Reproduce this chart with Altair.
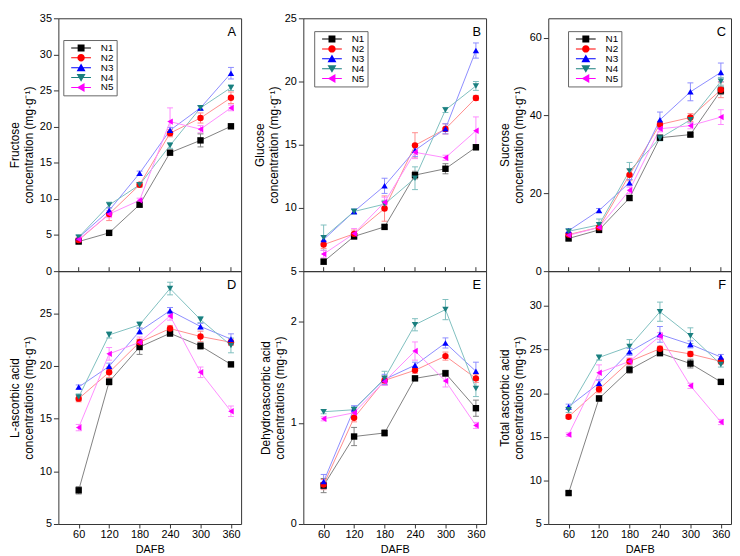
import altair as alt
import pandas as pd

days = [60, 120, 180, 240, 300, 360]
series = ["N1", "N2", "N3", "N4", "N5"]

# Panel A: fructose
fru = {
    "N1": [4.1, 5.3, 9.2, 16.4, 18.1, 20.05],
    "N2": [4.3, 7.9, 11.95, 19.1, 21.2, 24.0],
    "N3": [4.65, 8.4, 13.55, 19.5, 22.6, 27.4],
    "N4": [4.7, 9.15, 11.95, 17.4, 22.6, 25.4],
    "N5": [4.4, 7.9, 9.8, 20.7, 19.65, 22.6],
}
fru_err = {
    "N1": [0.2, 0.2, 0.3, 0.3, 0.9, 0.3],
    "N2": [0.3, 0.9, 0.3, 0.5, 0.7, 0.8],
    "N3": [0.3, 0.4, 0.3, 0.4, 0.3, 0.8],
    "N4": [0.3, 0.4, 0.3, 0.4, 0.3, 0.4],
    "N5": [0.3, 0.5, 0.3, 1.9, 0.5, 0.4],
}
# Panel B: glucose
glu = {
    "N1": [5.75, 7.75, 8.5, 12.6, 13.1, 14.8],
    "N2": [7.1, 7.95, 9.95, 14.95, 16.25, 18.7],
    "N3": [7.5, 9.72, 11.75, 14.56, 16.26, 22.45],
    "N4": [7.65, 9.72, 10.3, 12.35, 17.75, 19.65],
    "N5": [6.35, 7.97, 10.45, 14.4, 13.97, 16.1],
}
glu_err = {
    "N1": [0.2, 0.2, 0.15, 0.3, 0.4, 0.2],
    "N2": [0.3, 0.3, 1.0, 1.0, 0.4, 0.2],
    "N3": [0.3, 0.2, 0.6, 0.5, 0.4, 0.6],
    "N4": [1.0, 0.2, 0.3, 0.9, 0.2, 0.35],
    "N5": [0.3, 0.4, 0.4, 0.5, 0.2, 1.1],
}
# Panel C: sucrose
suc = {
    "N1": [8.4, 10.6, 18.8, 34.3, 35.1, 46.4],
    "N2": [9.4, 11.25, 24.75, 37.7, 39.5, 46.6],
    "N3": [10.4, 15.6, 22.75, 38.9, 46.1, 51.1],
    "N4": [10.25, 11.9, 25.75, 34.2, 38.9, 48.8],
    "N5": [9.2, 11.25, 20.8, 36.6, 37.4, 39.6],
}
suc_err = {
    "N1": [0.4, 0.5, 0.6, 0.5, 0.5, 1.0],
    "N2": [0.5, 0.5, 1.5, 0.8, 1.0, 2.0],
    "N3": [0.5, 0.5, 0.8, 2.0, 2.3, 2.4],
    "N4": [0.5, 1.5, 2.2, 0.7, 0.8, 1.0],
    "N5": [0.5, 0.5, 0.8, 0.8, 0.8, 1.9],
}
# Panel D: L-ascorbic acid
asa = {
    "N1": [8.2, 18.5, 21.8, 23.1, 21.9, 20.15],
    "N2": [16.9, 19.4, 22.25, 23.55, 22.8, 22.25],
    "N3": [18.0, 19.97, 23.3, 25.25, 23.75, 22.55],
    "N4": [17.05, 22.95, 23.9, 27.35, 24.4, 21.95],
    "N5": [14.15, 21.15, 22.25, 24.75, 19.4, 15.7],
}
asa_err = {
    "N1": [0.35, 0.3, 0.7, 0.3, 0.3, 0.2],
    "N2": [0.3, 0.5, 0.3, 0.3, 0.5, 0.3],
    "N3": [0.2, 0.3, 0.3, 0.3, 0.3, 0.5],
    "N4": [0.3, 0.3, 0.3, 0.6, 0.3, 0.7],
    "N5": [0.3, 0.6, 0.5, 0.4, 0.5, 0.5],
}
# Panel E: dehydroascorbic acid
dha = {
    "N1": [0.38, 0.865, 0.9, 1.44, 1.49, 1.145],
    "N2": [0.39, 1.05, 1.42, 1.52, 1.66, 1.44],
    "N3": [0.42, 1.14, 1.43, 1.57, 1.79, 1.51],
    "N4": [1.11, 1.13, 1.44, 1.97, 2.12, 1.34],
    "N5": [1.04, 1.10, 1.41, 1.71, 1.415, 0.975],
}
dha_err = {
    "N1": [0.07, 0.09, 0.03, 0.02, 0.03, 0.08],
    "N2": [0.05, 0.04, 0.04, 0.03, 0.04, 0.04],
    "N3": [0.07, 0.03, 0.05, 0.03, 0.05, 0.09],
    "N4": [0.02, 0.03, 0.07, 0.06, 0.10, 0.08],
    "N5": [0.02, 0.03, 0.04, 0.09, 0.06, 0.03],
}
# Panel F: total ascorbic acid
tot = {
    "N1": [8.55, 19.4, 22.7, 24.6, 23.4, 21.3],
    "N2": [17.3, 20.45, 23.65, 25.1, 24.5, 23.65],
    "N3": [18.45, 21.15, 24.75, 26.75, 25.6, 24.15],
    "N4": [18.1, 24.1, 25.35, 29.35, 26.6, 23.3],
    "N5": [15.25, 22.35, 23.65, 26.55, 20.85, 16.7],
}
tot_err = {
    "N1": [0.2, 0.3, 0.4, 0.3, 0.5, 0.2],
    "N2": [0.2, 0.4, 0.3, 0.3, 0.3, 0.3],
    "N3": [0.3, 0.4, 0.4, 0.9, 0.4, 0.3],
    "N4": [0.3, 0.3, 0.8, 1.1, 0.9, 0.3],
    "N5": [0.2, 0.9, 0.4, 0.4, 0.3, 0.3],
}

marker_colors = ["#000000", "#ff0000", "#0000ff", "#1a7f7f", "#ff00ff"]
line_colors = ["#808080", "#ff8c8c", "#8c8cff", "#7fbfbf", "#ff8cff"]
shapes = ["square", "circle", "triangle-up", "triangle-down", "triangle-left"]
LINE = "M-2,-0.1H2V0.1H-2Z "
legend_paths = [
    LINE + "M-0.7,-0.7H0.7V0.7H-0.7Z",
    LINE + "M-0.75,0A0.75,0.75 0 1,1 0.75,0A0.75,0.75 0 1,1 -0.75,0Z",
    LINE + "M0,-0.85L0.9,0.7H-0.9Z",
    LINE + "M0,0.85L-0.9,-0.7H0.9Z",
    LINE + "M-0.85,0L0.7,-0.9V0.9Z",
]

W, H = 185, 256
FONT = "Liberation Sans"
MG = "(mg\u00b7g\u207b\u00b9)"


def make_panel(letter, vals, errs, ydom, yticks, ytitle, top, legend_xy=None):
    rows = []
    for s in series:
        for i, d in enumerate(days):
            v, e = vals[s][i], errs[s][i]
            rows.append(dict(day=d, series=s, value=v, lo=v - e, hi=v + e))
    df = pd.DataFrame(rows)
    xscale = alt.Scale(domain=[20, 380], nice=False, zero=False)
    yscale = alt.Scale(domain=ydom, nice=False, zero=False)
    if top:
        xaxis = alt.Axis(labels=False, ticks=False, domain=False, grid=False, title=None)
    else:
        xaxis = alt.Axis(values=days, title="DAFB", grid=False, domain=False,
                         tickSize=4, labelPadding=1, titlePadding=4)
    yaxis = alt.Axis(values=yticks, title=ytitle, grid=False, domain=False,
                     tickSize=5, labelPadding=2, titlePadding=4)
    x = alt.X("day:Q", scale=xscale, axis=xaxis)
    base = alt.Chart(df)
    lcol = alt.Color("series:N", scale=alt.Scale(domain=series, range=line_colors), legend=None)
    mcol = alt.Color("series:N", scale=alt.Scale(domain=series, range=marker_colors), legend=None)

    err = base.mark_rule(strokeWidth=1).encode(
        x=x, y=alt.Y("lo:Q", scale=yscale, axis=yaxis), y2="hi:Q", color=lcol)
    cap_lo = base.mark_tick(orient="horizontal", size=6, thickness=1, opacity=1).encode(
        x=x, y=alt.Y("lo:Q", scale=yscale, axis=yaxis), color=lcol)
    cap_hi = base.mark_tick(orient="horizontal", size=6, thickness=1, opacity=1).encode(
        x=x, y=alt.Y("hi:Q", scale=yscale, axis=yaxis), color=lcol)
    line = base.mark_line(strokeWidth=1).encode(
        x=x, y=alt.Y("value:Q", scale=yscale, axis=yaxis), color=lcol)
    pts = base.mark_point(filled=True, size=42, opacity=1).encode(
        x=x, y=alt.Y("value:Q", scale=yscale, axis=yaxis), color=mcol,
        shape=alt.Shape("series:N", scale=alt.Scale(domain=series, range=shapes), legend=None))
    lab = alt.Chart(pd.DataFrame({"t": [letter]})).mark_text(
        fontSize=13, font=FONT, align="right", baseline="middle", color="black").encode(
        text="t:N", x=alt.value(W - 5), y=alt.value(14))
    layers = [err, cap_lo, cap_hi, line, pts, lab]
    if top:
        tk = alt.Chart(pd.DataFrame({"day": days})).mark_rule(color="#333", strokeWidth=1).encode(
            x=x, y=alt.value(H - 4), y2=alt.value(H))
        layers.append(tk)
    if legend_xy is not None:
        leg = alt.Legend(title=None, orient="none", legendX=legend_xy[0], legendY=legend_xy[1],
                         strokeColor="#666", fillColor="white", padding=3, rowPadding=0,
                         labelFontSize=10, labelFont=FONT, symbolOffset=10, labelOffset=15,
                         symbolStrokeWidth=0)
        lg = base.transform_filter("false").mark_point(filled=True, size=100, opacity=1).encode(
            x=x, y=alt.Y("value:Q", scale=yscale, axis=yaxis),
            color=alt.Color("series:N", scale=alt.Scale(domain=series, range=marker_colors), legend=leg),
            shape=alt.Shape("series:N", scale=alt.Scale(domain=series, range=legend_paths), legend=leg))
        layers.append(lg)
    return alt.layer(*layers).resolve_scale(color="independent", shape="independent").properties(
        width=W, height=H)


pA = make_panel("A", fru, fru_err, [0, 35], [0, 5, 10, 15, 20, 25, 30, 35],
                ["Fructose", "concentration " + MG], True, (5, 22))
pB = make_panel("B", glu, glu_err, [5, 25], [5, 10, 15, 20, 25],
                ["Glucose", "concentration " + MG], True, (11, 13))
pC = make_panel("C", suc, suc_err, [0, 65], [0, 20, 40, 60],
                ["Sucrose", "concentration " + MG], True, (20, 13))
pD = make_panel("D", asa, asa_err, [5, 29], [5, 10, 15, 20, 25],
                ["L-ascorbic acid", "concentrations " + MG], False)
pE = make_panel("E", dha, dha_err, [0, 2.5], [0, 1, 2],
                ["Dehydroascorbic acid", "concentrations " + MG], False)
pF = make_panel("F", tot, tot_err, [5, 34], [5, 10, 15, 20, 25, 30],
                ["Total ascorbic acid", "concentrations " + MG], False)

chart = alt.concat(pA, pB, pC, pD, pE, pF, columns=3,
                   spacing={"row": 0, "column": 63}, bounds="flush", padding=0).resolve_scale(
    x="independent", y="independent", color="independent", shape="independent"
).configure_view(stroke="#333", strokeWidth=1).configure_axis(
    labelFont=FONT, titleFont=FONT, labelFontSize=11, titleFontSize=12,
    titleFontWeight="normal", labelColor="black", titleColor="black",
    tickColor="#333", titleLineHeight=14
).configure_axisX(labelFontSize=11, titleFontSize=11)

chart.save("out.html", embed_options={"renderer": "svg", "actions": False})
